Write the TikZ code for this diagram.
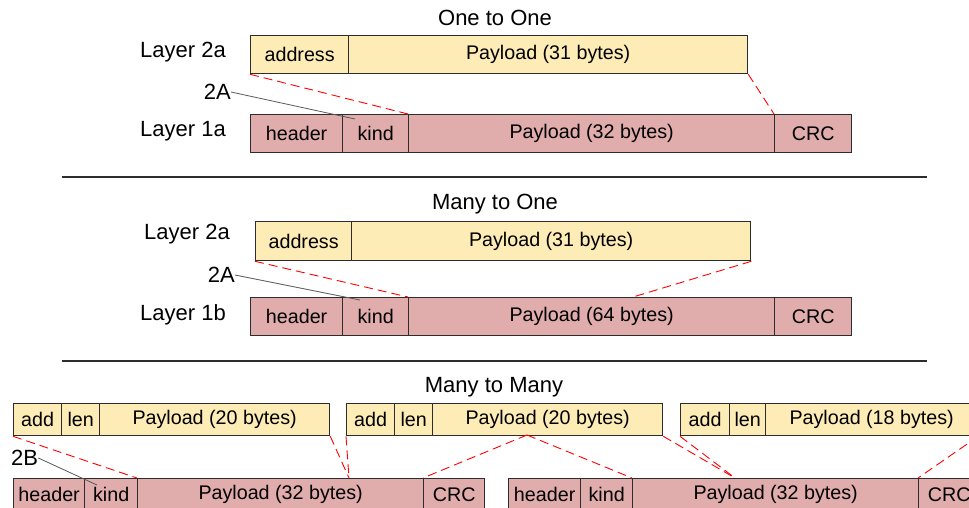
\documentclass[tikz,border=0pt]{standalone}
\usepackage{fontspec}
\setmainfont{Liberation Sans}
\definecolor{ylwfill}{RGB}{253,236,182}
\definecolor{pnkfill}{RGB}{224,172,172}
\definecolor{boxline}{RGB}{45,45,45}
\begin{document}
\begin{tikzpicture}[x=1pt,y=-1pt,
  cell/.style={shape=rectangle,draw=boxline,line width=1.3pt,anchor=north west,inner sep=0pt,minimum height=38pt,font=\fontsize{19.7}{22}\selectfont},
  ylw/.style={cell,fill=ylwfill},
  pnk/.style={cell,fill=pnkfill},
  low/.style={minimum height=32pt},
  lbl/.style={font=\fontsize{22}{26}\selectfont,inner sep=0pt},
  map/.style={red,dash pattern=on 9pt off 5pt,line width=0.9pt},
  tag/.style={black!65,line width=0.8pt}]
\clip (0,0) rectangle (969,508);
% one to one
\node (T1) at (495,18) [lbl]{One to One};
\node (L2a) at (226,52) [lbl,anchor=east]{Layer 2a};
\node (N1) at (231,92) [lbl,anchor=east]{2A};
\node (L1a) at (226,131) [lbl,anchor=east]{Layer 1a};
\node (A1) at (250,35) [ylw,minimum width=98pt]{address};
\node (A1P) at (348,35) [ylw,minimum width=399pt]{Payload (31 bytes)};
\node (H1) at (250,114) [pnk,minimum width=92pt]{header};
\node (K1) at (342,114) [pnk,minimum width=66pt]{kind};
\node (P1) at (408,114) [pnk,minimum width=366pt]{Payload (32 bytes)};
\node (C1) at (774,114) [pnk,minimum width=77pt]{CRC};
\coordinate (E1) at (355,119);
\draw [map] (A1.south west) to (P1.north west);
\draw [map] (A1P.south east) to (C1.north west);
\draw [tag] (N1.east) to (E1);
\draw [line width=1.3pt,boxline] (62,177) to (927,177);
% many to one
\node (T2) at (495,204) [lbl]{Many to One};
\node (L2b) at (230,234) [lbl,anchor=east]{Layer 2a};
\node (N2) at (235,275) [lbl,anchor=east]{2A};
\node (L1b) at (226,315) [lbl,anchor=east]{Layer 1b};
\node (A2) at (255,221) [ylw,minimum width=96pt,minimum height=39pt]{address};
\node (A2P) at (351,221) [ylw,minimum width=399pt,minimum height=39pt]{Payload (31 bytes)};
\node (H2) at (250,297) [pnk,minimum width=92pt]{header};
\node (K2) at (342,297) [pnk,minimum width=66pt]{kind};
\node (P2) at (408,297) [pnk,minimum width=366pt]{Payload (64 bytes)};
\node (C2) at (774,297) [pnk,minimum width=77pt]{CRC};
\coordinate (M2) at (633,297);
\coordinate (E2) at (360,300);
\draw [map] (A2.south west) to (P2.north west);
\draw [map] (A2P.south east) to (M2);
\draw [tag] (N2.east) to (E2);
\draw [line width=1.3pt,boxline] (62,361) to (927,361);
% many to many
\node (T3) at (494,387) [lbl]{Many to Many};
\node (N3) at (11,458) [lbl,anchor=west]{2B};
\node (Y1A) at (13,403) [ylw,low,minimum width=48pt]{add};
\node (Y1L) at (61,403) [ylw,low,minimum width=38pt]{len};
\node (Y1P) at (99,403) [ylw,low,minimum width=230pt]{Payload (20 bytes)};
\node (Y2A) at (346,403) [ylw,low,minimum width=48pt]{add};
\node (Y2L) at (394,403) [ylw,low,minimum width=38pt]{len};
\node (Y2P) at (432,403) [ylw,low,minimum width=230pt]{Payload (20 bytes)};
\node (Y3A) at (680,403) [ylw,low,minimum width=49pt]{add};
\node (Y3L) at (729,403) [ylw,low,minimum width=36pt]{len};
\node (Y3P) at (765,403) [ylw,low,minimum width=212pt]{Payload (18 bytes)};
\node (B1H) at (13,478) [pnk,low,minimum width=71pt]{header};
\node (B1K) at (84,478) [pnk,low,minimum width=53pt]{kind};
\node (B1P) at (137,478) [pnk,low,minimum width=286pt]{Payload (32 bytes)};
\node (B1C) at (423,478) [pnk,low,minimum width=61pt]{CRC};
\node (B2H) at (508,478) [pnk,low,minimum width=72pt]{header};
\node (B2K) at (580,478) [pnk,low,minimum width=52pt]{kind};
\node (B2P) at (632,478) [pnk,low,minimum width=286pt]{Payload (32 bytes)};
\node (B2C) at (918,478) [pnk,low,minimum width=61pt]{CRC};
\coordinate (MA) at (349,478);
\coordinate (MB) at (527,435);
\coordinate (MC) at (735,478);
\coordinate (E3) at (97,485);
\draw [map] (Y1A.south west) to (B1P.north west);
\draw [map] (Y1P.south east) to (MA);
\draw [map] (Y2A.south west) to (MA);
\draw [map] (MB) to (B1C.north west);
\draw [map] (MB) to (B2P.north west);
\draw [map] (Y2P.south east) to (MC);
\draw [map] (Y3A.south west) to (MC);
\draw [map] (Y3P.south east) to (B2C.north west);
\draw [tag] (N3.east) to (E3);
\end{tikzpicture}
\end{document}
